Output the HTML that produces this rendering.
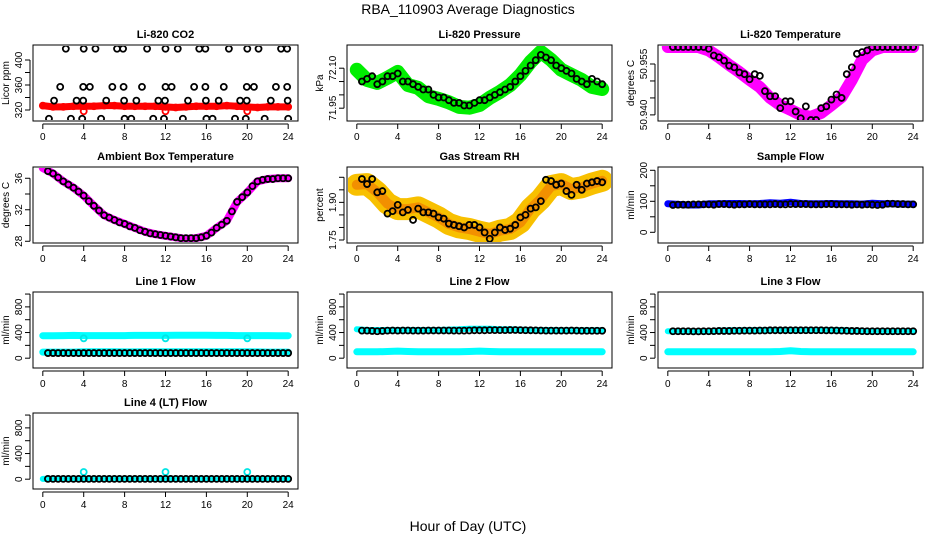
<!DOCTYPE html>
<html><head><meta charset="utf-8">
<style>
html,body{margin:0;padding:0;background:#fff;}
svg{display:block;font-family:"Liberation Sans",Arial,sans-serif;}
</style></head>
<body>
<svg id="chart" width="936" height="540" viewBox="0 0 936 540" xmlns="http://www.w3.org/2000/svg">
<text x="468" y="14" text-anchor="middle" font-size="14">RBA_110903  Average Diagnostics</text>
<text x="468" y="531" text-anchor="middle" font-size="14">Hour of Day (UTC)</text>
</svg>
<script>
// ---------- data ----------
const xTicks = [0,4,8,12,16,20,24];
const hourly = [0,1,2,3,4,5,6,7,8,9,10,11,12,13,14,15,16,17,18,19,20,21,22,23,24];
const halfHours = [0.5,1,1.5,2,2.5,3,3.5,4,4.5,5,5.5,6,6.5,7,7.5,8,8.5,9,9.5,10,10.5,11,11.5,12,12.5,13,13.5,14,14.5,15,15.5,16,16.5,17,17.5,18,18.5,19,19.5,20,20.5,21,21.5,22,22.5,23,23.5,24];

// CO2
const co2Red = [327,325,325,326,326,326,327,327,326,326,326,326,325,324,325,326,326,326,327,326,325,324,325,325,325];
const co2RedDipHours = [4,12,20];
const co2RedDipVals = [318,318,318];
const co2BlackHours = [2.25,4.0,5.15,7.26,7.85,10.2,12.0,13.2,15.3,15.9,18.2,20.0,21.1,23.3,23.9,
 1.7,3.95,4.6,6.8,7.9,9.7,12.0,12.6,14.8,15.9,17.7,19.95,20.65,22.8,23.9,
 1.1,3.3,3.95,6.2,7.95,9.15,11.3,11.95,14.2,15.95,17.2,19.3,19.95,22.3,23.95,
 0.6,2.75,3.85,5.7,8.0,8.65,10.8,11.85,13.7,16.0,16.6,18.8,19.85,21.7,24.0];
const co2BlackVals = [418,418,418,418,418,418,418,418,418,418,418,418,418,418,418,
 357,357,357,357,357,357,357,357,357,357,357,357,357,357,357,
 335,335,335,335,335,335,335,335,335,335,335,335,335,335,335,
 306,306,306,306,306,306,306,306,306,306,306,306,306,306,306];

// Pressure
const presGreen = [72.094,72.056,72.045,72.064,72.086,72.037,72.026,71.995,71.985,71.972,71.955,71.952,71.962,71.989,72.011,72.037,72.075,72.124,72.161,72.131,72.094,72.075,72.056,72.030,72.022];
const presBlack = [72.05,72.06,72.07,72.04,72.05,72.07,72.07,72.08,72.05,72.05,72.04,72.03,72.02,72.02,72.00,71.99,71.99,71.98,71.97,71.97,71.96,71.96,71.97,71.98,71.98,71.99,72.00,72.01,72.02,72.03,72.05,72.07,72.09,72.11,72.13,72.15,72.14,72.13,72.11,72.10,72.09,72.08,72.06,72.05,72.04,72.06,72.05,72.04];

// Li-820 temperature
const ltMag = [50.960,50.960,50.960,50.960,50.959,50.957,50.9547,50.9526,50.9503,50.9482,50.945,50.9429,50.9415,50.940,50.9394,50.9406,50.9429,50.9453,50.9503,50.9562,50.959,50.960,50.960,50.960,50.960];
const ltBlack = [50.960,50.960,50.960,50.960,50.960,50.960,50.960,50.9595,50.9575,50.957,50.956,50.9545,50.954,50.9525,50.952,50.9505,50.952,50.9515,50.947,50.9455,50.9455,50.942,50.944,50.944,50.941,50.939,50.9425,50.9385,50.9385,50.942,50.9425,50.9445,50.946,50.945,50.952,50.954,50.958,50.9585,50.959,50.960,50.960,50.960,50.960,50.960,50.960,50.960,50.960,50.960];

// Ambient box temperature
const ambMag = [37.3,36.6,35.6,34.8,33.8,32.5,31.3,30.7,30.2,29.7,29.2,28.9,28.7,28.5,28.3,28.4,28.7,29.7,30.6,33.0,34.2,35.6,35.9,36.0,36.0];
const ambBlack = [36.9,36.6,36.1,35.6,35.2,34.8,34.3,33.8,33.1,32.5,31.9,31.3,31.0,30.7,30.4,30.2,29.9,29.7,29.4,29.2,29.0,28.9,28.8,28.7,28.6,28.5,28.4,28.4,28.4,28.4,28.5,28.7,29.1,29.7,30.1,30.6,31.8,33.0,33.6,34.2,35.0,35.6,35.8,35.9,35.9,36.0,36.0,36.0];

// Gas stream RH
const rhOrange = [1.97,1.973,1.94,1.895,1.873,1.873,1.88,1.86,1.84,1.814,1.80,1.794,1.783,1.774,1.787,1.794,1.82,1.875,1.913,1.965,1.973,1.953,1.96,1.975,1.986];
const rhBlack = [1.993,1.973,1.993,1.94,1.945,1.855,1.865,1.89,1.86,1.87,1.83,1.875,1.86,1.86,1.855,1.84,1.835,1.815,1.81,1.805,1.80,1.81,1.81,1.80,1.78,1.755,1.78,1.80,1.79,1.795,1.81,1.84,1.85,1.875,1.88,1.905,1.99,1.985,1.97,1.975,1.945,1.93,1.97,1.95,1.975,1.98,1.985,1.98];

// Sample flow
const sfBlue = [92,90,88,88,92,92,93,93,92,93,95,94,97,93,92,92,93,92,92,91,94,92,92,91,91];
const sfBlack = [88,89,89,89,90,90,90,90,89,91,91,90,89,90,90,91,90,90,90,90,91,90,90,91,91,91,91,90,90,90,91,91,90,90,90,89,90,89,90,89,88,89,92,92,91,91,90,90];

// Line flows
const l1CyanHigh = [350,350,352,355,352,352,352,352,352,355,355,355,356,358,358,358,358,355,355,352,352,352,352,350,350];
const l1CyanLow = [95,95,95,95,100,100,100,100,98,98,100,100,100,100,100,100,100,100,100,100,100,98,95,95,95];
const l1DipHours = [4,12,20];
const l1DipVals = [310,310,310];
const l1Black = [80,80,80,80,80,80,80,80,80,80,80,80,80,80,80,80,80,80,80,80,80,80,80,80,80,80,80,80,80,80,80,80,80,80,80,80,80,80,80,80,80,80,80,80,80,80,80,80];

const l2CyanHigh = [450,440,440,440,438,440,440,440,440,445,450,460,460,460,450,450,445,440,440,440,435,435,435,435,435];
const l2CyanLow = [100,100,100,105,110,105,100,100,100,100,100,105,110,105,100,100,100,100,100,100,100,100,100,100,100];
const l2Black = [430,430,425,420,425,430,432,430,432,432,430,430,430,432,432,432,432,432,430,430,430,432,435,435,435,438,438,438,438,440,440,438,436,435,434,432,430,430,430,430,430,432,430,428,428,428,428,428];

const l3CyanHigh = [420,420,420,418,418,430,435,435,438,440,440,440,440,440,440,440,440,440,430,425,420,420,420,420,420];
const l3CyanLow = [100,100,100,100,100,100,100,100,100,100,100,105,115,105,100,100,100,100,100,100,100,100,100,100,100];
const l3Black = [420,420,420,420,418,418,420,420,422,425,425,425,428,428,430,430,430,432,432,435,435,435,435,436,436,436,436,436,436,436,434,434,432,430,428,425,425,422,420,420,420,420,420,420,420,420,420,420];

const l4Cyan = [5,5,5,5,5,5,5,5,5,5,5,5,5,5,5,5,5,5,5,5,5,5,5,5,5];
const l4SpikeHours = [4,12,20];
const l4SpikeVals = [112,112,112];
const l4Black = [5,5,5,5,5,5,5,5,5,5,5,5,5,5,5,5,5,5,5,5,5,5,5,5,5,5,5,5,5,5,5,5,5,5,5,5,5,5,5,5,5,5,5,5,5,5,5,5];

// ---------- drawing ----------
const NS = "http://www.w3.org/2000/svg";
const svg = document.getElementById('chart');
const colLeft = [33,347,658];
const rowTop = [45,167,292,413];
const PW = 265, PH = 76;

function el(tag, attrs, parent){
  const e = document.createElementNS(NS, tag);
  for (const k in attrs) e.setAttribute(k, attrs[k]);
  (parent||svg).appendChild(e);
  return e;
}

function makePanel(slug, title, col, row, ymin, ymax, yticks, ylabels, ytitle){
  const L = colLeft[col], T = rowTop[row], B = T + PH, R = L + PW;
  const g = el('g', {});
  
  
  const x = h => L + PW * (h + 0.96) / 25.92;
  const y = v => B - PH * (v - ymin) / (ymax - ymin);
  const t = el('text', {x: L + PW/2, y: T - 7, 'text-anchor':'middle', 'font-size':11, 'font-weight':'bold'}, g);
  t.textContent = title;
  
  
  const box = el('rect', {x:L, y:T, width:PW, height:PH, fill:'none', stroke:'#000', 'stroke-width':1}, g);
  
  
  const xa = el('g', {}, g);
  
  
  el('line', {x1:x(xTicks[0]), x2:x(xTicks[xTicks.length-1]), y1:B+3, y2:B+3, stroke:'#000'}, xa);
  xTicks.forEach(v => {
    el('line', {x1:x(v), x2:x(v), y1:B+3, y2:B+8, stroke:'#000'}, xa);
    const tl = el('text', {x:x(v), y:B+19, 'text-anchor':'middle', 'font-size':10}, xa);
    tl.textContent = v;
    
    
  });
  const ya = el('g', {}, g);
  
  
  el('line', {x1:L-3, x2:L-3, y1:y(yticks[0]), y2:y(yticks[yticks.length-1]), stroke:'#000'}, ya);
  yticks.forEach(v => {
    el('line', {x1:L-8, x2:L-3, y1:y(v), y2:y(v), stroke:'#000'}, ya);
  });
  ylabels.forEach(lb => {
    const yy = y(parseFloat(lb));
    const tl = el('text', {x:L-11, y:yy, 'text-anchor':'middle', 'font-size':10, transform:`rotate(-90 ${L-11} ${yy})`}, ya);
    tl.textContent = lb;
    
    
  });
  const yt = el('text', {x:L-24, y:T+PH/2, 'text-anchor':'middle', 'font-size':10, transform:`rotate(-90 ${L-24} ${T+PH/2})`}, ya);
  yt.textContent = ytitle;
  
  
  const clipId = 'clip-' + slug;
  const cp = el('clipPath', {id: clipId}, g);
  el('rect', {x:L+1, y:T+1, width:PW-2, height:PH-2}, cp);
  const data = el('g', {'clip-path':`url(#${clipId})`}, g);
  return {x, y, g: data};
}

function band(p, hours, vals, color, width, slug){
  const pts = hours.map((h,i) => `${p.x(h).toFixed(1)},${p.y(vals[i]).toFixed(1)}`).join(' ');
  const pl = el('polyline', {points: pts, fill:'none', stroke:color, 'stroke-width':width, 'stroke-linecap':'round', 'stroke-linejoin':'round'}, p.g);
  
  
}
function circles(p, hours, vals, color, slug, r){
  hours.forEach((h,i) => {
    const c = el('circle', {cx:p.x(h), cy:p.y(vals[i]), r:r||3, fill:'none', stroke:color, 'stroke-width':1.8}, p.g);
    
    
  });
}

let p = makePanel('co2','Li-820 CO2',0,0,302.4,424,[320,340,360,380,400],['320','360','400'],'Licor ppm');
band(p, hourly, co2Red, '#ff0000', 7, 'co2-red-series');
circles(p, hourly, co2Red, '#ff0000', 'co2-red-point');
circles(p, co2RedDipHours, co2RedDipVals, '#ff0000', 'co2-red-point');
circles(p, co2BlackHours, co2BlackVals, '#000', 'co2-black-point');

p = makePanel('pressure','Li-820 Pressure',1,0,71.902,72.187,[71.95,72.00,72.05,72.10],['71.95','72.10'],'kPa');
band(p, hourly, presGreen, '#00ee00', 14, 'pressure-green-series');
circles(p, halfHours, presBlack, '#000', 'pressure-black-point');

p = makePanel('li820-temp','Li-820 Temperature',2,0,50.9382,50.9606,[50.940,50.945,50.950,50.955],['50.940','50.955'],'degrees C');
band(p, hourly, ltMag, '#ff00ff', 12, 'li820-temp-magenta-series');
circles(p, halfHours, ltBlack, '#000', 'li820-temp-black-point');

p = makePanel('ambient-temp','Ambient Box Temperature',0,1,27.78,37.43,[28,30,32,34,36],['28','32','36'],'degrees C');
band(p, hourly, ambMag, '#ff00ff', 8, 'ambient-temp-magenta-series');
circles(p, halfHours, ambBlack, '#000', 'ambient-temp-black-point');

p = makePanel('gas-rh','Gas Stream RH',1,1,1.738,2.041,[1.75,1.80,1.85,1.90,1.95,2.00],['1.75','1.90'],'percent');
band(p, hourly, rhOrange, '#f8c000', 22, 'gas-rh-orange-series');
band(p, hourly, rhOrange, '#f29000', 10, 'gas-rh-orange-core');
circles(p, halfHours, rhBlack, '#000', 'gas-rh-black-point');

p = makePanel('sample-flow','Sample Flow',2,1,-34.5,210.6,[0,50,100,150,200],['0','100','200'],'ml/min');
band(p, hourly, sfBlue, '#0000ff', 7, 'sample-flow-blue-series');
circles(p, halfHours, sfBlack, '#000', 'sample-flow-black-point');

p = makePanel('line1-flow','Line 1 Flow',0,2,-153,1032,[0,200,400,600,800,1000],['0','400','800'],'ml/min');
band(p, hourly, l1CyanHigh, '#00ffff', 7, 'line1-cyan-high-series');
band(p, hourly, l1CyanLow, '#00ffff', 7, 'line1-cyan-low-series');
circles(p, l1DipHours, l1DipVals, '#00e5e5', 'line1-cyan-dip-point');
circles(p, halfHours, l1Black, '#000', 'line1-black-point');

p = makePanel('line2-flow','Line 2 Flow',1,2,-153,1032,[0,200,400,600,800,1000],['0','400','800'],'ml/min');
band(p, hourly, l2CyanHigh, '#00ffff', 6, 'line2-cyan-high-series');
band(p, hourly, l2CyanLow, '#00ffff', 7, 'line2-cyan-low-series');
circles(p, halfHours, l2Black, '#000', 'line2-black-point');

p = makePanel('line3-flow','Line 3 Flow',2,2,-153,1032,[0,200,400,600,800,1000],['0','400','800'],'ml/min');
band(p, hourly, l3CyanHigh, '#00ffff', 6, 'line3-cyan-high-series');
band(p, hourly, l3CyanLow, '#00ffff', 7, 'line3-cyan-low-series');
circles(p, halfHours, l3Black, '#000', 'line3-black-point');

p = makePanel('line4-flow','Line 4 (LT) Flow',0,3,-153,1032,[0,200,400,600,800,1000],['0','400','800'],'ml/min');
band(p, hourly, l4Cyan, '#00ffff', 6, 'line4-cyan-series');
circles(p, l4SpikeHours, l4SpikeVals, '#00e5e5', 'line4-cyan-spike-point');
circles(p, halfHours, l4Black, '#000', 'line4-black-point');
</script>
</body></html>
